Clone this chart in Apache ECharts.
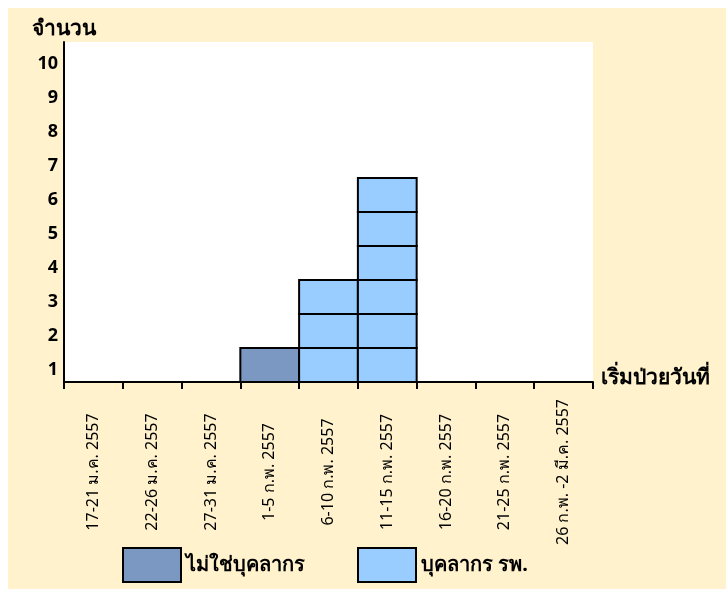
<!DOCTYPE html>
<html>
<head>
<meta charset="utf-8">
<script src="https://cdn.jsdelivr.net/npm/echarts@6/dist/echarts.min.js"></script>
<style>
  html, body { margin: 0; padding: 0; background: #ffffff; }
  #chart { width: 726px; height: 589px; }
</style>
</head>
<body>
<div id="chart"></div>
<script>
// Onset periods (x axis)
const periods = [
  '17-21 ม.ค. 2557',
  '22-26 ม.ค. 2557',
  '27-31 ม.ค. 2557',
  '1-5 ก.พ. 2557',
  '6-10 ก.พ. 2557',
  '11-15 ก.พ. 2557',
  '16-20 ก.พ. 2557',
  '21-25 ก.พ. 2557',
  '26 ก.พ. -2 มี.ค. 2557'
];

// Case counts per period
const nonStaffCases = [0, 0, 0, 1, 0, 0, 0, 0, 0];
const staffCases    = [0, 0, 0, 0, 3, 6, 0, 0, 0];

const seriesNames = ['ไม่ใช่บุคลากร', 'บุคลากร รพ.'];
// Count labels sit in the middle of each one-case row
const yTickLabels = ['1', '2', '3', '4', '5', '6', '7', '8', '9', '10'];

const FONT = 'Tahoma, "Noto Sans", "DejaVu Sans", sans-serif';

// Each case is drawn as its own box stacked on top of the previous group
function buildData(values, baseValues) {
  return values.map((v, i) => [i, v, baseValues ? baseValues[i] : 0]);
}

function renderCaseBoxes(params, api) {
  const idx = api.value(0);
  const count = api.value(1);
  const base = api.value(2);
  const size = api.size([1, 1]);
  const w = size[0];
  const h = size[1];
  const children = [];
  for (let k = 0; k < count; k++) {
    const topLeft = api.coord([idx, base + k + 1]);
    children.push({
      type: 'rect',
      shape: { x: topLeft[0] - w / 2, y: topLeft[1], width: w, height: h },
      style: api.style({ stroke: '#000000', lineWidth: 2 })
    });
  }
  return { type: 'group', children: children };
}

const chart = echarts.init(document.getElementById('chart'));

chart.setOption({
  backgroundColor: '#ffffff',
  animation: false,
  textStyle: { fontFamily: FONT },
  graphic: [{
    type: 'rect',
    z: -10,
    shape: { x: 8, y: 8, width: 718, height: 581 },
    style: { fill: '#fff2cc' },
    silent: true
  }],
  grid: {
    left: 64, top: 42, right: 133, bottom: 207,
    show: true, backgroundColor: '#ffffff', borderWidth: 0
  },
  legend: {
    left: 122, top: 547,
    padding: 0,
    itemWidth: 58, itemHeight: 34, itemGap: 52,
    icon: 'rect',
    selectedMode: false,
    itemStyle: { borderColor: '#000000', borderWidth: 2 },
    textStyle: { fontFamily: FONT, fontSize: 20, fontWeight: 'bold', color: '#000000' },
    data: seriesNames
  },
  xAxis: {
    type: 'category',
    data: periods,
    boundaryGap: true,
    name: 'เริ่มป่วยวันที่',
    nameLocation: 'end',
    nameGap: 8,
    nameTextStyle: {
      fontFamily: FONT, fontSize: 21, fontWeight: 'bold', color: '#000000',
      verticalAlign: 'bottom', lineHeight: 8
    },
    axisLine: { lineStyle: { color: '#000000', width: 2 } },
    axisTick: { show: true, length: 7, lineStyle: { color: '#000000', width: 2 } },
    axisLabel: {
      rotate: 90,
      align: 'center',
      verticalAlign: 'middle',
      margin: 90,
      interval: 0,
      fontFamily: FONT, fontSize: 16, color: '#000000'
    },
    splitLine: { show: false }
  },
  yAxis: [
    {
      // value scale used by the case boxes
      type: 'value',
      min: 0, max: 10, interval: 1,
      name: 'จำนวน',
      nameLocation: 'end',
      nameGap: 13,
      nameTextStyle: {
        fontFamily: FONT, fontSize: 21, fontWeight: 'bold', color: '#000000',
        verticalAlign: 'middle'
      },
      axisLine: { show: true, lineStyle: { color: '#000000', width: 2 } },
      axisTick: { show: false },
      splitLine: { show: false },
      axisLabel: { show: false }
    },
    {
      // row labels, one per case row, centred in the row
      type: 'category',
      position: 'left',
      data: yTickLabels,
      boundaryGap: true,
      axisLine: { show: false },
      axisTick: { show: false },
      splitLine: { show: false },
      axisLabel: {
        interval: 0,
        margin: 6,
        fontFamily: FONT, fontSize: 18, fontWeight: 'bold', color: '#000000',
        verticalAlign: 'top',
        lineHeight: 10
      }
    }
  ],
  series: [
    {
      name: seriesNames[0],
      type: 'custom',
      renderItem: renderCaseBoxes,
      itemStyle: { color: '#7b98c3', borderColor: '#000000', borderWidth: 2 },
      encode: { x: 0, y: 1 },
      yAxisIndex: 0,
      data: buildData(nonStaffCases, null),
      z: 5
    },
    {
      name: seriesNames[1],
      type: 'custom',
      renderItem: renderCaseBoxes,
      itemStyle: { color: '#99ccff', borderColor: '#000000', borderWidth: 2 },
      encode: { x: 0, y: 1 },
      yAxisIndex: 0,
      data: buildData(staffCases, nonStaffCases),
      z: 5
    }
  ]
});
</script>
</body>
</html>
